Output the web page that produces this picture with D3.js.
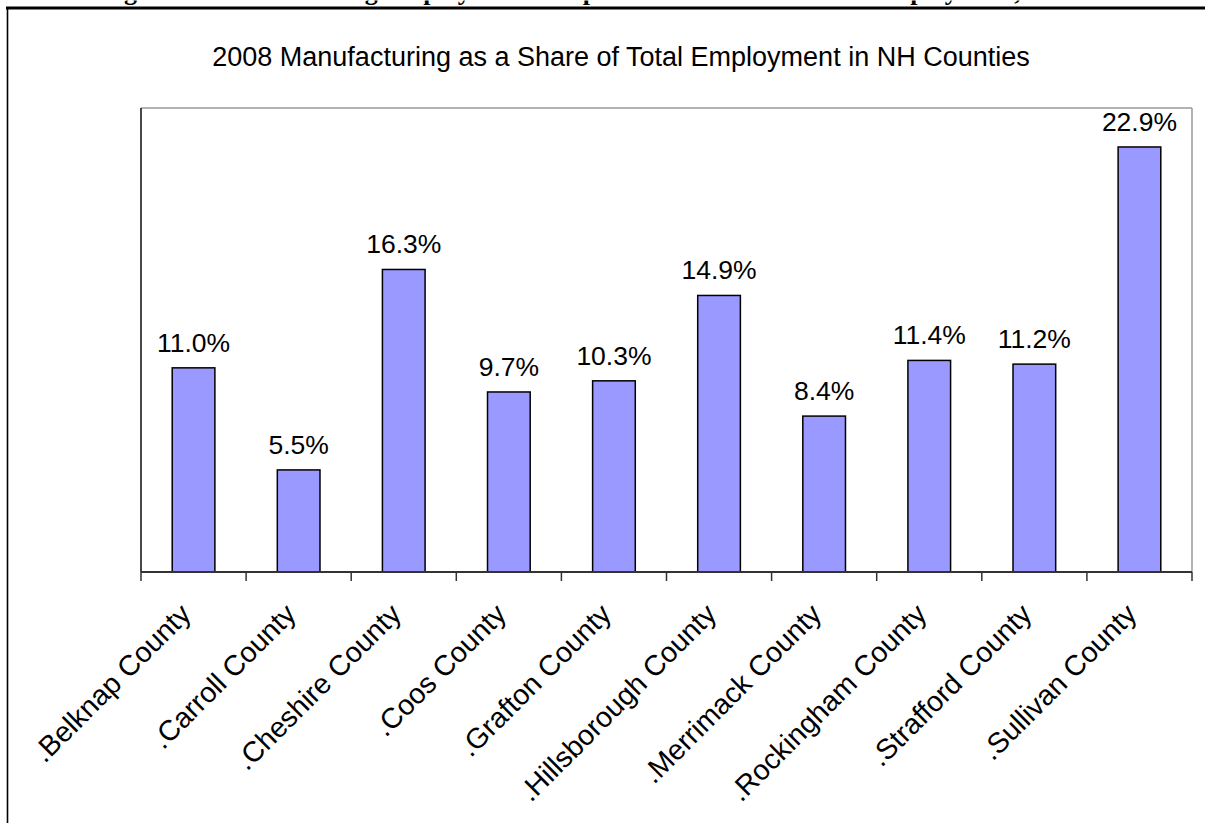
<!DOCTYPE html>
<html>
<head>
<meta charset="utf-8">
<script src="https://cdn.jsdelivr.net/npm/d3@7/dist/d3.min.js"></script>
<style>
  html, body { margin: 0; padding: 0; background: #fff; }
  svg { display: block; }
  text { font-family: "Liberation Sans", Arial, sans-serif; fill: #000; }
</style>
</head>
<body>
<div id="chart"></div>
<script>
// Manufacturing share of total employment, NH counties, 2008 (percent)
const categories = [
  ".Belknap County", ".Carroll County", ".Cheshire County", ".Coos County",
  ".Grafton County", ".Hillsborough County", ".Merrimack County",
  ".Rockingham County", ".Strafford County", ".Sullivan County"
];
const shares = [11.0, 5.5, 16.3, 9.7, 10.3, 14.9, 8.4, 11.4, 11.2, 22.9];
const yDomain = [0, 25];
const chartTitle = "2008 Manufacturing as a Share of Total Employment in NH Counties";
const headerText = "Figure 6: Manufacturing Employment as a percent of Total Nonfarm Employment, 2008";

const W = 1205, H = 823;
const plot = { left: 141, right: 1192, top: 108, bottom: 572 };

const svg = d3.select("#chart").append("svg")
  .attr("width", W).attr("height", H);

// Page header, running off the top edge: clipped to the strip below its baseline
const headerBaseline = 0;
svg.append("clipPath").attr("id", "header-clip")
  .append("rect")
  .attr("x", 0).attr("y", headerBaseline + 0.5)
  .attr("width", W).attr("height", 6);
svg.append("text")
  .attr("clip-path", "url(#header-clip)")
  .attr("x", 590).attr("y", headerBaseline)
  .attr("text-anchor", "middle")
  .style("font-family", "'Liberation Serif', 'Times New Roman', serif")
  .style("font-weight", "bold")
  .style("font-size", "26px")
  .text(headerText);

// Frame around the figure
svg.append("line")
  .attr("x1", 6).attr("x2", W + 2)
  .attr("y1", 8).attr("y2", 8)
  .attr("stroke", "#000").attr("stroke-width", 3);
svg.append("line")
  .attr("x1", 7.5).attr("x2", 7.5)
  .attr("y1", 8).attr("y2", H + 2)
  .attr("stroke", "#000").attr("stroke-width", 1.6);

// Title
svg.append("text")
  .attr("x", 621).attr("y", 66)
  .attr("text-anchor", "middle")
  .style("font-size", "27px")
  .text(chartTitle);

// Scales
const x = d3.scaleBand()
  .domain(categories)
  .range([plot.left, plot.right])
  .paddingInner(0.594)
  .paddingOuter(0.297);

const y = d3.scaleLinear()
  .domain(yDomain)
  .range([plot.bottom, plot.top]);

// Plot area border: grey top and right, dark left
svg.append("line")
  .attr("x1", x.range()[0]).attr("x2", x.range()[1])
  .attr("y1", y(yDomain[1])).attr("y2", y(yDomain[1]))
  .attr("stroke", "#9a9a9a").attr("stroke-width", 1.5);
svg.append("line")
  .attr("x1", x.range()[1]).attr("x2", x.range()[1])
  .attr("y1", y(yDomain[1])).attr("y2", y(0))
  .attr("stroke", "#9a9a9a").attr("stroke-width", 1.5);
svg.append("line")
  .attr("x1", x.range()[0]).attr("x2", x.range()[0])
  .attr("y1", y(yDomain[1])).attr("y2", y(0))
  .attr("stroke", "#333").attr("stroke-width", 1.8);

// Bars
const data = categories.map((c, i) => ({ c, v: shares[i] }));
svg.append("g").selectAll("rect")
  .data(data)
  .join("rect")
  .attr("x", d => x(d.c))
  .attr("width", x.bandwidth())
  .attr("y", d => y(d.v))
  .attr("height", d => y(0) - y(d.v))
  .attr("fill", "#9999ff")
  .attr("stroke", "#000")
  .attr("stroke-width", 1.5);

// Value labels
svg.append("g").selectAll("text")
  .data(data)
  .join("text")
  .attr("x", d => x(d.c) + x.bandwidth() / 2)
  .attr("y", d => y(d.v) - 16)
  .attr("text-anchor", "middle")
  .style("font-size", "26.5px")
  .text(d => d3.format(".1f")(d.v) + "%");

// Category axis: baseline plus tick marks at category boundaries
svg.append("line")
  .attr("x1", x.range()[0]).attr("x2", x.range()[1])
  .attr("y1", y(0)).attr("y2", y(0))
  .attr("stroke", "#333").attr("stroke-width", 1.8);
const bounds = d3.range(categories.length + 1).map(i => x.range()[0] + i * x.step());
svg.append("g").selectAll("line")
  .data(bounds)
  .join("line")
  .attr("x1", d => d).attr("x2", d => d)
  .attr("y1", y(0)).attr("y2", y(0) + 9)
  .attr("stroke", "#333").attr("stroke-width", 1.5);

// Rotated category labels
svg.append("g").selectAll("text")
  .data(categories)
  .join("text")
  .attr("transform", c => `translate(${x(c) + x.bandwidth() / 2 - 1},616) rotate(-45)`)
  .attr("text-anchor", "end")
  .style("font-size", "28.5px")
  .text(c => c);
</script>
</body>
</html>
